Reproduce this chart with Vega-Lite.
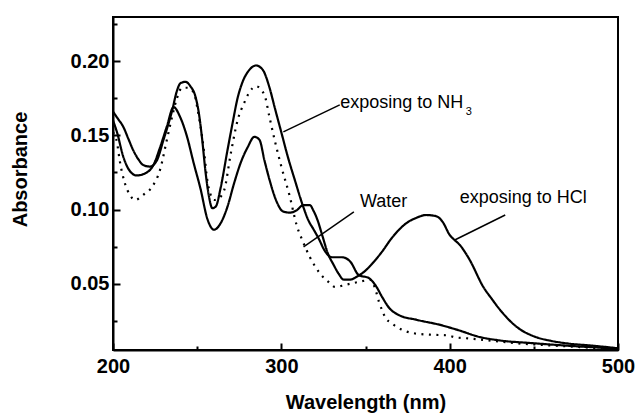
{
  "$schema": "https://vega.github.io/schema/vega-lite/v6.json",
  "autosize": "none",
  "width": 505,
  "height": 333,
  "padding": {"left": 113, "top": 17, "right": 19, "bottom": 69},
  "background": "white",
  "config": {
    "view": {"stroke": "black", "strokeWidth": 2},
    "font": "Liberation Sans"
  },
  "datasets": {
    "curves": [
      {"s":"A","x":200,"y":0.166},{"s":"A","x":203,"y":0.161},{"s":"A","x":206,"y":0.156},{"s":"A","x":209,"y":0.148},{"s":"A","x":212,"y":0.140},{"s":"A","x":215,"y":0.134},{"s":"A","x":218,"y":0.130},{"s":"A","x":222,"y":0.129},{"s":"A","x":226,"y":0.133},{"s":"A","x":230,"y":0.147},{"s":"A","x":233,"y":0.158},{"s":"A","x":235,"y":0.166},{"s":"A","x":238,"y":0.180},{"s":"A","x":240,"y":0.185},{"s":"A","x":243,"y":0.186},{"s":"A","x":246,"y":0.183},{"s":"A","x":249,"y":0.176},{"s":"A","x":251,"y":0.165},{"s":"A","x":253,"y":0.147},{"s":"A","x":255,"y":0.125},{"s":"A","x":257,"y":0.109},{"s":"A","x":259,"y":0.101},{"s":"A","x":261,"y":0.102},{"s":"A","x":264,"y":0.115},{"s":"A","x":268,"y":0.140},{"s":"A","x":271,"y":0.158},{"s":"A","x":274,"y":0.175},{"s":"A","x":277,"y":0.186},{"s":"A","x":281,"y":0.194},{"s":"A","x":285,"y":0.197},{"s":"A","x":289,"y":0.194},{"s":"A","x":293,"y":0.182},{"s":"A","x":296,"y":0.169},{"s":"A","x":300,"y":0.152},{"s":"A","x":304,"y":0.135},{"s":"A","x":308,"y":0.120},{"s":"A","x":313,"y":0.102},{"s":"A","x":316,"y":0.093},{"s":"A","x":319,"y":0.087},{"s":"A","x":322,"y":0.081},{"s":"A","x":326,"y":0.072},{"s":"A","x":330,"y":0.068},{"s":"A","x":336,"y":0.068},{"s":"A","x":341,"y":0.065},{"s":"A","x":346,"y":0.056},{"s":"A","x":352,"y":0.054},{"s":"A","x":356,"y":0.049},{"s":"A","x":360,"y":0.041},{"s":"A","x":364,"y":0.034},{"s":"A","x":370,"y":0.029},{"s":"A","x":380,"y":0.026},{"s":"A","x":395,"y":0.0223},{"s":"A","x":405,"y":0.019},{"s":"A","x":418,"y":0.0143},{"s":"A","x":430,"y":0.012},{"s":"A","x":448,"y":0.0103},{"s":"A","x":470,"y":0.0085},{"s":"A","x":500,"y":0.0065},
      {"s":"C","x":200,"y":0.160},{"s":"C","x":202.4,"y":0.152},{"s":"C","x":206,"y":0.136},{"s":"C","x":210,"y":0.126},{"s":"C","x":214,"y":0.123},{"s":"C","x":220,"y":0.125},{"s":"C","x":224,"y":0.130},{"s":"C","x":228,"y":0.142},{"s":"C","x":232,"y":0.156},{"s":"C","x":236,"y":0.169},{"s":"C","x":240,"y":0.162},{"s":"C","x":244,"y":0.149},{"s":"C","x":248,"y":0.131},{"s":"C","x":252,"y":0.114},{"s":"C","x":256,"y":0.094},{"s":"C","x":260,"y":0.0865},{"s":"C","x":264,"y":0.091},{"s":"C","x":268,"y":0.102},{"s":"C","x":272,"y":0.118},{"s":"C","x":276,"y":0.132},{"s":"C","x":280,"y":0.142},{"s":"C","x":284,"y":0.149},{"s":"C","x":287,"y":0.147},{"s":"C","x":290,"y":0.133},{"s":"C","x":293,"y":0.120},{"s":"C","x":297,"y":0.106},{"s":"C","x":301,"y":0.0988},{"s":"C","x":305,"y":0.098},{"s":"C","x":309,"y":0.0995},{"s":"C","x":313,"y":0.103},{"s":"C","x":317,"y":0.103},{"s":"C","x":319,"y":0.0995},{"s":"C","x":321.5,"y":0.093},{"s":"C","x":324.5,"y":0.082},{"s":"C","x":327.5,"y":0.071},{"s":"C","x":331,"y":0.063},{"s":"C","x":334,"y":0.057},{"s":"C","x":337,"y":0.053},{"s":"C","x":341,"y":0.053},{"s":"C","x":345,"y":0.055},{"s":"C","x":350,"y":0.059},{"s":"C","x":355,"y":0.065},{"s":"C","x":360,"y":0.072},{"s":"C","x":365,"y":0.080},{"s":"C","x":370,"y":0.0866},{"s":"C","x":375,"y":0.0915},{"s":"C","x":380,"y":0.0944},{"s":"C","x":386,"y":0.0964},{"s":"C","x":392,"y":0.0956},{"s":"C","x":396,"y":0.0915},{"s":"C","x":400,"y":0.083},{"s":"C","x":403,"y":0.0795},{"s":"C","x":406,"y":0.0763},{"s":"C","x":409,"y":0.0716},{"s":"C","x":412,"y":0.066},{"s":"C","x":420,"y":0.048},{"s":"C","x":425,"y":0.040},{"s":"C","x":430,"y":0.0325},{"s":"C","x":440,"y":0.021},{"s":"C","x":451,"y":0.0144},{"s":"C","x":460,"y":0.0118},{"s":"C","x":470,"y":0.010},{"s":"C","x":485,"y":0.0085},{"s":"C","x":500,"y":0.0068},
      {"s":"W","x":200,"y":0.152},{"s":"W","x":202.4,"y":0.145},{"s":"W","x":204,"y":0.133},{"s":"W","x":207,"y":0.118},{"s":"W","x":210,"y":0.110},{"s":"W","x":213,"y":0.1065},{"s":"W","x":218,"y":0.110},{"s":"W","x":223,"y":0.115},{"s":"W","x":228,"y":0.127},{"s":"W","x":232,"y":0.147},{"s":"W","x":235,"y":0.162},{"s":"W","x":238,"y":0.175},{"s":"W","x":241,"y":0.182},{"s":"W","x":244,"y":0.182},{"s":"W","x":248,"y":0.179},{"s":"W","x":250,"y":0.169},{"s":"W","x":252,"y":0.156},{"s":"W","x":254,"y":0.140},{"s":"W","x":256,"y":0.120},{"s":"W","x":258,"y":0.110},{"s":"W","x":260,"y":0.1065},{"s":"W","x":262,"y":0.107},{"s":"W","x":266,"y":0.113},{"s":"W","x":270,"y":0.138},{"s":"W","x":274,"y":0.160},{"s":"W","x":278,"y":0.172},{"s":"W","x":281,"y":0.179},{"s":"W","x":285,"y":0.183},{"s":"W","x":290,"y":0.177},{"s":"W","x":293,"y":0.162},{"s":"W","x":296,"y":0.147},{"s":"W","x":300,"y":0.129},{"s":"W","x":305,"y":0.109},{"s":"W","x":309,"y":0.090},{"s":"W","x":313,"y":0.078},{"s":"W","x":317,"y":0.068},{"s":"W","x":323,"y":0.057},{"s":"W","x":328,"y":0.0514},{"s":"W","x":332,"y":0.048},{"s":"W","x":338,"y":0.0494},{"s":"W","x":346,"y":0.0514},{"s":"W","x":353,"y":0.0527},{"s":"W","x":356,"y":0.046},{"s":"W","x":358,"y":0.038},{"s":"W","x":360,"y":0.032},{"s":"W","x":362,"y":0.027},{"s":"W","x":365,"y":0.024},{"s":"W","x":368,"y":0.0215},{"s":"W","x":378,"y":0.017},{"s":"W","x":390,"y":0.0158},{"s":"W","x":398,"y":0.0155},{"s":"W","x":404,"y":0.014},{"s":"W","x":410,"y":0.0135},{"s":"W","x":425,"y":0.0118},{"s":"W","x":438,"y":0.0103},{"s":"W","x":455,"y":0.009},{"s":"W","x":477,"y":0.0076},{"s":"W","x":500,"y":0.006}
    ],
    "leaders": [
      {"x":301.2,"y":0.1523,"x2":334.7,"y2":0.1705},
      {"x":313.2,"y":0.0749,"x2":343.1,"y2":0.0985},
      {"x":403,"y":0.0796,"x2":433,"y2":0.0964}
    ],
    "labels": [
      {"x":335,"y":0.1718,"t":"exposing to NH","fs":18},
      {"x":409.5,"y":0.1655,"t":"3","fs":11},
      {"x":346.7,"y":0.1052,"t":"Water","fs":18},
      {"x":406,"y":0.1079,"t":"exposing to HCl","fs":18}
    ]
  },
  "resolve": {"axis": {"x": "independent", "y": "independent"}},
  "layer": [
    {
      "data": {"name": "curves"},
      "mark": {"type": "line", "interpolate": "monotone", "color": "black", "strokeWidth": 2.2, "clip": true},
      "encoding": {
        "x": {
          "field": "x", "type": "quantitative",
          "scale": {"domain": [200, 500], "nice": false, "zero": false},
          "axis": {
            "orient": "bottom",
            "title": "Wavelength (nm)",
            "values": [200, 300, 400, 500],
            "format": "d",
            "ticks": true,
            "tickSize": -7,
            "tickWidth": 2,
            "tickColor": "black",
            "domainColor": "black",
            "domainWidth": 2,
            "grid": false,
            "labelFont": "Liberation Sans",
            "labelFontWeight": "bold",
            "labelFontSize": 20,
            "labelColor": "black",
            "labelPadding": 13,
            "labelFlush": false,
            "labelOverlap": false,
            "titleFont": "Liberation Sans",
            "titleFontWeight": "bold",
            "titleFontSize": 20,
            "titleColor": "black",
            "titlePadding": 16
          }
        },
        "y": {
          "field": "y", "type": "quantitative",
          "scale": {"domain": [0.0056, 0.2296], "nice": false, "zero": false},
          "axis": {
            "orient": "left",
            "title": "Absorbance",
            "values": [0.05, 0.1, 0.15, 0.2],
            "format": ".2f",
            "ticks": true,
            "tickSize": -7,
            "tickWidth": 2,
            "tickColor": "black",
            "domainColor": "black",
            "domainWidth": 2,
            "grid": false,
            "labelFont": "Liberation Sans",
            "labelFontWeight": "bold",
            "labelFontSize": 20,
            "labelColor": "black",
            "labelPadding": 11,
            "labelFlush": false,
            "labelOverlap": false,
            "titleFont": "Liberation Sans",
            "titleFontWeight": "bold",
            "titleFontSize": 20,
            "titleColor": "black",
            "titleY": 152,
            "titleX": -83
          }
        },
        "detail": {"field": "s"},
        "strokeDash": {
          "field": "s", "type": "nominal",
          "scale": {"domain": ["A", "C", "W"], "range": [[1, 0], [1, 0], [2, 5.5]]},
          "legend": null
        }
      }
    },
    {
      "data": {"name": "leaders"},
      "mark": {"type": "rule", "color": "black", "strokeWidth": 1.5},
      "encoding": {
        "x": {"field": "x", "type": "quantitative", "axis": null},
        "y": {"field": "y", "type": "quantitative", "axis": null},
        "x2": {"field": "x2"},
        "y2": {"field": "y2"}
      }
    },
    {
      "data": {"name": "labels"},
      "mark": {"type": "text", "align": "left", "baseline": "middle", "font": "Liberation Sans", "color": "black"},
      "encoding": {
        "x": {
          "field": "x", "type": "quantitative",
          "axis": {"orient": "bottom", "values": [250, 350, 450], "labels": false, "title": null, "domain": false, "grid": false, "ticks": true, "tickSize": -4, "tickWidth": 2, "tickColor": "black"}
        },
        "y": {
          "field": "y", "type": "quantitative",
          "axis": {"orient": "left", "values": [0.025, 0.075, 0.125, 0.175, 0.225], "labels": false, "title": null, "domain": false, "grid": false, "ticks": true, "tickSize": -4, "tickWidth": 2, "tickColor": "black"}
        },
        "text": {"field": "t"},
        "size": {"field": "fs", "type": "quantitative", "scale": null}
      }
    }
  ]
}
